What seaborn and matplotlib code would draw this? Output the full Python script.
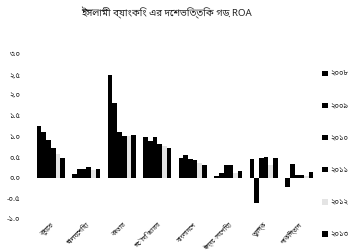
import pandas as pd
import matplotlib
matplotlib.use("Agg")
import matplotlib.pyplot as plt
import seaborn as sns

# দেশ ও বছর
countries = ["কুয়েত", "মালয়েশিয়া", "কাতার", "সৌদি আরব",
             "বাংলাদেশ", "ইন্দোনেশিয়া", "তুরস্ক", "পাকিস্তান"]
years = ["২০০৮", "২০০৯", "২০১০", "২০১১", "২০১২", "২০১৩"]

# ROA (%) per year, one value per country
roa_2008 = [1.25, 0.10, 2.50, 0.98, 0.48, 0.05, 0.45, -0.22]
roa_2009 = [1.10, 0.20, 1.80, 0.88, 0.56, 0.12, -0.62, 0.34]
roa_2010 = [0.91, 0.20, 1.10, 0.98, 0.46, 0.32, 0.48, 0.07]
roa_2011 = [0.72, 0.25, 1.01, 0.82, 0.42, 0.30, 0.50, 0.07]
roa_2012 = [0.58, 0.18, 1.00, 0.78, 0.35, 0.12, 0.30, 0.05]
roa_2013 = [0.48, 0.22, 1.04, 0.72, 0.32, 0.16, 0.48, 0.15]

y_ticks = [-1.0, -0.5, 0.0, 0.5, 1.0, 1.5, 2.0, 2.5, 3.0]
y_tick_labels = ["-১.০", "-০.৫", "০.০", "০.৫", "১.০", "১.৫", "২.০", "২.৫", "৩.০"]

title = "ইসলামী ব্যাংকিং এর দেশভিত্তিক গড় ROA"

sns.set_theme(style="white")
plt.rcParams["font.family"] = ["Noto Sans Bengali", "DejaVu Sans"]

series = [roa_2008, roa_2009, roa_2010, roa_2011, roa_2012, roa_2013]
rows = []
for yr, vals in zip(years, series):
    for c, v in zip(countries, vals):
        rows.append({"country": c, "year": yr, "roa": v})
df = pd.DataFrame(rows)

palette = ["#000000", "#000000", "#000000", "#000000", "#e4e4e4", "#000000"]

fig = plt.figure(figsize=(3.59, 2.52), dpi=100)
ax = fig.add_axes([0.092, 0.131, 0.791, 0.655])

sns.barplot(data=df, x="country", y="roa", hue="year", order=countries,
            hue_order=years, palette=palette, saturation=1, width=0.8,
            linewidth=0, ax=ax)

ax.set_xlim(-0.5, len(countries) - 0.5)
ax.set_ylim(-1.0, 3.0)
ax.set_yticks(y_ticks)
ax.set_yticklabels(y_tick_labels, fontsize=5.5)
ax.tick_params(axis="y", length=0, pad=9)
ax.tick_params(axis="x", length=0, pad=2)
ax.set_xticks(range(len(countries)))
ax.set_xticklabels(countries, rotation=45, ha="right", rotation_mode="anchor",
                   fontsize=4.6)
ax.set_xlabel("")
ax.set_ylabel("")
for s in ax.spines.values():
    s.set_visible(False)

ax.legend(loc="center left", bbox_to_anchor=(1.0, 0.39), frameon=False,
          fontsize=5.5, handlelength=0.7, handleheight=0.7, handletextpad=0.3,
          labelspacing=3.25, borderaxespad=0.3)

fig.text(0.465, 0.95, title, ha="center", va="center", fontsize=7,
         fontweight="bold")

fig.savefig("out.png", dpi=100)
